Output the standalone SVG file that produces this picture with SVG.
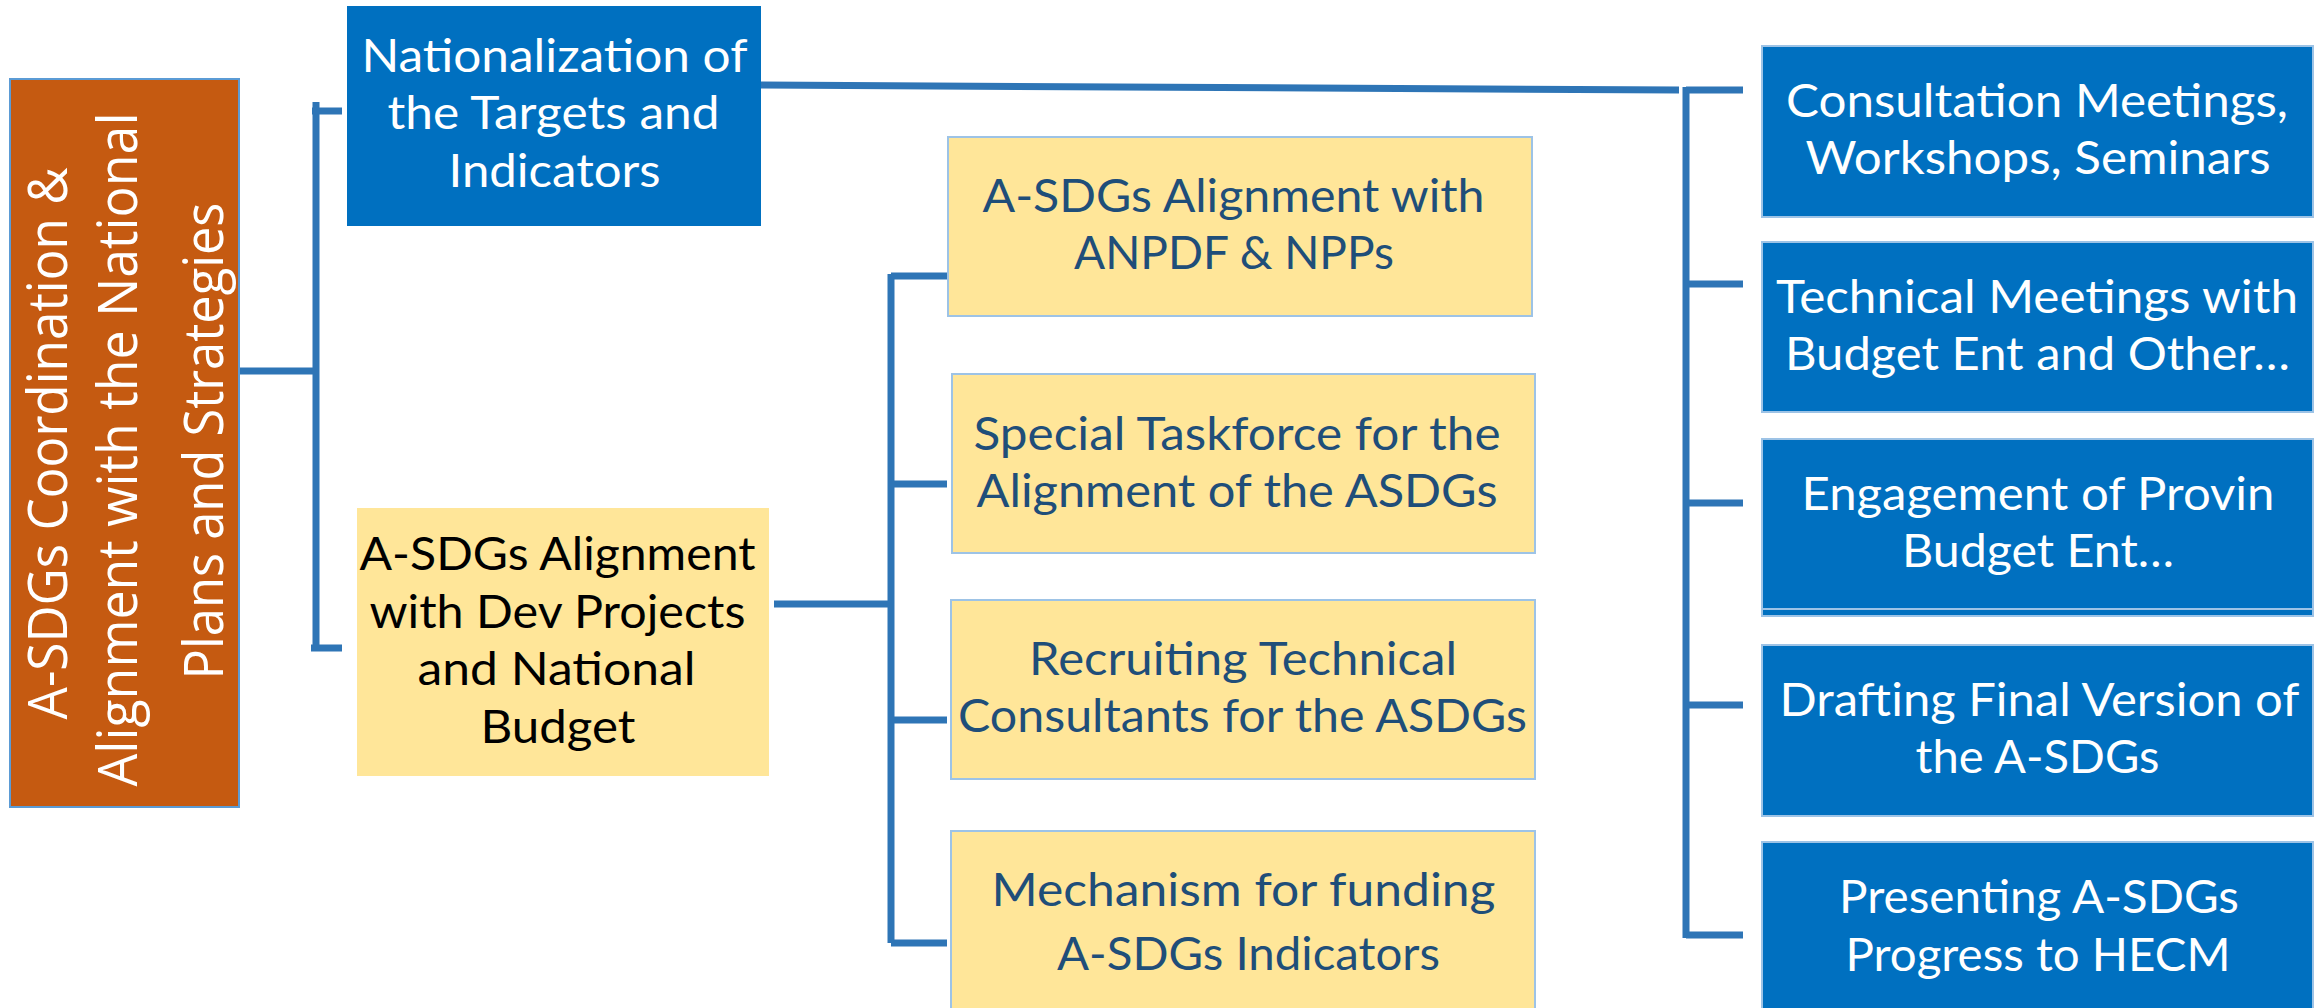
<svg xmlns="http://www.w3.org/2000/svg" width="2314" height="1008" viewBox="0 0 2314 1008">
<style>
.conn{stroke:#2E75B6;stroke-width:7;fill:none;stroke-linecap:butt}
.blue{fill:#0070C0}
.blueb{fill:#0070C0;stroke:#9DC3E6;stroke-width:2}
.yel{fill:#FFE699;stroke:#9DC3E6;stroke-width:2}
.t{font-family:Lato,"Open Sans","Liberation Sans",sans-serif;font-size:46px;text-anchor:middle}
.w{fill:#FFFFFF}
.d{fill:#1F4E79}
.k{fill:#000000}
.v{font-family:"Open Sans","DejaVu Sans",sans-serif;font-size:54px;fill:#FFFFFF;text-anchor:middle}
</style>
<rect width="2314" height="1008" fill="#FFFFFF"/>
<g id="connectors">
<path class="conn" d="M228 371H316M316 102V648M312 111H342M311 648H342"/>
<path class="conn" d="M761 85L1679 90M1686 87V938M1686 90H1743M1686 284H1743M1686 503H1743M1686 705H1743M1686 935H1743"/>
<path class="conn" d="M774 604H891M891 274V943M891 276H947M891 484H947M891 720H947M891 943H947"/>
</g>
<g id="root">
<rect x="10" y="79" width="229" height="728" fill="#C55A11" stroke="#5B9BD5" stroke-width="2"/>
<text class="v" transform="translate(67,443.5) rotate(-90)" textLength="552" lengthAdjust="spacingAndGlyphs">A-SDGs Coordination &amp;</text>
<text class="v" transform="translate(137,449.5) rotate(-90)" textLength="674" lengthAdjust="spacingAndGlyphs">Alignment with the National</text>
<text class="v" transform="translate(223,441) rotate(-90)" textLength="477" lengthAdjust="spacingAndGlyphs">Plans and Strategies</text>
</g>
<g id="nationalization">
<rect class="blue" x="347" y="6" width="414" height="220"/>
<text class="t w" x="554.5" y="72" textLength="386" lengthAdjust="spacingAndGlyphs">Nationalization of</text>
<text class="t w" x="553.5" y="129" textLength="332" lengthAdjust="spacingAndGlyphs">the Targets and</text>
<text class="t w" x="554.5" y="187" textLength="212" lengthAdjust="spacingAndGlyphs">Indicators</text>
</g>
<g id="budget">
<rect x="357" y="508" width="412" height="268" fill="#FFE699"/>
<text class="t k" x="557.5" y="570" textLength="396" lengthAdjust="spacingAndGlyphs">A-SDGs Alignment</text>
<text class="t k" x="557.5" y="628" textLength="376" lengthAdjust="spacingAndGlyphs">with Dev Projects</text>
<text class="t k" x="556.5" y="685" textLength="278" lengthAdjust="spacingAndGlyphs">and National</text>
<text class="t k" x="558" y="743" textLength="155" lengthAdjust="spacingAndGlyphs">Budget</text>
</g>
<g id="anpdf">
<rect class="yel" x="948" y="137" width="584" height="179"/>
<text class="t d" x="1233.5" y="212" textLength="502" lengthAdjust="spacingAndGlyphs">A-SDGs Alignment with</text>
<text class="t d" x="1234" y="269" textLength="320" lengthAdjust="spacingAndGlyphs">ANPDF &amp; NPPs</text>
</g>
<g id="taskforce">
<rect class="yel" x="952" y="374" width="583" height="179"/>
<text class="t d" x="1237" y="450" textLength="527" lengthAdjust="spacingAndGlyphs">Special Taskforce for the</text>
<text class="t d" x="1237" y="507" textLength="521" lengthAdjust="spacingAndGlyphs">Alignment of the ASDGs</text>
</g>
<g id="recruiting">
<rect class="yel" x="951" y="600" width="584" height="179"/>
<text class="t d" x="1243" y="675" textLength="428" lengthAdjust="spacingAndGlyphs">Recruiting Technical</text>
<text class="t d" x="1242.5" y="732" textLength="569" lengthAdjust="spacingAndGlyphs">Consultants for the ASDGs</text>
</g>
<g id="funding">
<rect class="yel" x="951" y="831" width="584" height="190"/>
<text class="t d" x="1243.5" y="906" textLength="504" lengthAdjust="spacingAndGlyphs">Mechanism for funding</text>
<text class="t d" x="1248.5" y="970" textLength="383" lengthAdjust="spacingAndGlyphs">A-SDGs Indicators</text>
</g>
<g id="consultation">
<rect class="blueb" x="1762" y="46" width="551" height="171"/>
<text class="t w" x="2037" y="117" textLength="502" lengthAdjust="spacingAndGlyphs">Consultation Meetings,</text>
<text class="t w" x="2038" y="174" textLength="465" lengthAdjust="spacingAndGlyphs">Workshops, Seminars</text>
</g>
<g id="technical">
<rect class="blueb" x="1762" y="242" width="551" height="170"/>
<text class="t w" x="2037" y="313" textLength="522" lengthAdjust="spacingAndGlyphs">Technical Meetings with</text>
<text class="t w" x="2037.5" y="370" textLength="505" lengthAdjust="spacingAndGlyphs">Budget Ent and Other…</text>
</g>
<g id="engagement">
<rect class="blueb" x="1762" y="439" width="551" height="177"/>
<line x1="1762" y1="609" x2="2313" y2="609" stroke="#9DC3E6" stroke-width="2"/>
<text class="t w" x="2038" y="510" textLength="473" lengthAdjust="spacingAndGlyphs">Engagement of Provin</text>
<text class="t w" x="2038" y="567" textLength="272" lengthAdjust="spacingAndGlyphs">Budget Ent…</text>
</g>
<g id="drafting">
<rect class="blueb" x="1762" y="645" width="551" height="171"/>
<text class="t w" x="2039.5" y="716" textLength="520" lengthAdjust="spacingAndGlyphs">Drafting Final Version of</text>
<text class="t w" x="2037.5" y="773" textLength="244" lengthAdjust="spacingAndGlyphs">the A-SDGs</text>
</g>
<g id="presenting">
<rect class="blueb" x="1762" y="842" width="551" height="180"/>
<text class="t w" x="2039" y="913" textLength="400" lengthAdjust="spacingAndGlyphs">Presenting A-SDGs</text>
<text class="t w" x="2038" y="971" textLength="385" lengthAdjust="spacingAndGlyphs">Progress to HECM</text>
</g>
</svg>
